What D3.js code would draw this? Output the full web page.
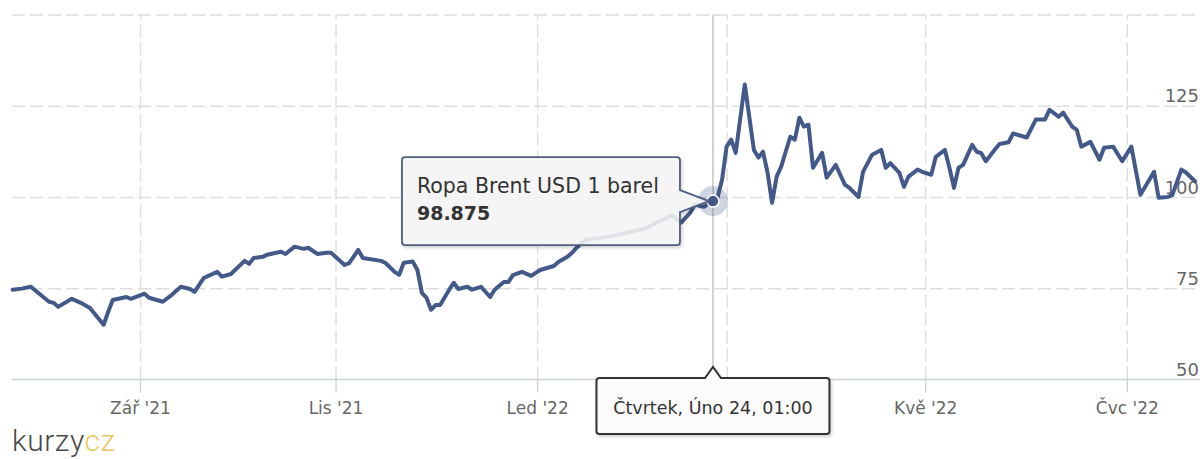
<!DOCTYPE html>
<html>
<head>
<meta charset="utf-8">
<script src="https://cdn.jsdelivr.net/npm/d3@7"></script>
<style>
  html, body { margin: 0; padding: 0; background: #fff; }
  svg { display: block; }
  text { font-family: "DejaVu Sans", Verdana, sans-serif; }
</style>
</head>
<body>
<svg id="chart" width="1204" height="459"></svg>
<script>
// ---- data ----
const seriesName = "Ropa Brent USD 1 barel";
const dates = [
  "2021-07-23","2021-07-27","2021-07-29","2021-08-04","2021-08-05","2021-08-06","2021-08-11","2021-08-13",
  "2021-08-17","2021-08-20","2021-08-23","2021-08-24","2021-08-27","2021-08-30","2021-09-02","2021-09-03",
  "2021-09-08","2021-09-10","2021-09-14","2021-09-16","2021-09-17","2021-09-21","2021-09-24","2021-09-27",
  "2021-09-29","2021-10-04","2021-10-05","2021-10-06","2021-10-08","2021-10-11","2021-10-14","2021-10-15",
  "2021-10-19","2021-10-21","2021-10-22","2021-10-26","2021-10-28","2021-10-29","2021-11-01","2021-11-03",
  "2021-11-04","2021-11-08","2021-11-09","2021-11-15","2021-11-16","2021-11-18","2021-11-19","2021-11-22",
  "2021-11-24","2021-11-25","2021-11-26","2021-11-29","2021-11-30","2021-12-01","2021-12-02","2021-12-06",
  "2021-12-07","2021-12-08","2021-12-10","2021-12-13","2021-12-15","2021-12-17","2021-12-20","2021-12-22",
  "2021-12-23","2021-12-24","2021-12-28","2021-12-30","2022-01-03","2022-01-06","2022-01-07","2022-01-11",
  "2022-01-12","2022-01-13","2022-01-17","2022-01-20","2022-01-25","2022-01-31","2022-02-03","2022-02-08",
  "2022-02-11","2022-02-15","2022-02-17","2022-02-18","2022-02-22","2022-02-24","2022-02-25","2022-02-28",
  "2022-03-01","2022-03-02","2022-03-03","2022-03-07","2022-03-09","2022-03-10","2022-03-11","2022-03-14",
  "2022-03-15","2022-03-16","2022-03-17","2022-03-21","2022-03-22","2022-03-23","2022-03-24","2022-03-25",
  "2022-03-28","2022-03-30","2022-03-31","2022-04-04","2022-04-06","2022-04-07","2022-04-11","2022-04-12",
  "2022-04-14","2022-04-18","2022-04-19","2022-04-20","2022-04-22","2022-04-25","2022-04-26","2022-04-28",
  "2022-04-29","2022-05-03","2022-05-04","2022-05-06","2022-05-09","2022-05-10","2022-05-11","2022-05-12",
  "2022-05-16","2022-05-17","2022-05-18","2022-05-19","2022-05-23","2022-05-24","2022-05-26","2022-05-27",
  "2022-06-01","2022-06-03","2022-06-07","2022-06-08","2022-06-10","2022-06-13","2022-06-15","2022-06-16",
  "2022-06-17","2022-06-21","2022-06-23","2022-06-24","2022-06-28","2022-06-30","2022-07-04","2022-07-06",
  "2022-07-11","2022-07-12","2022-07-14","2022-07-15","2022-07-19","2022-07-20","2022-07-22"
];
const values = [
  74.6,74.9,75.4,71.3,71.0,69.9,72.1,71.0,
  69.6,65.0,68.5,71.8,72.6,72.1,73.5,72.4,
  71.3,73.2,75.4,74.8,74.0,77.8,79.5,78.2,
  78.9,82.5,81.7,83.3,83.6,84.2,85.0,84.4,
  86.4,85.8,86.1,84.4,84.7,84.7,83.6,81.4,
  81.9,85.5,83.3,82.5,81.9,79.5,78.7,82.0,
  82.3,80.0,73.7,72.4,69.1,70.4,70.4,74.6,
  76.5,74.8,75.4,74.6,75.4,72.6,74.6,76.7,
  76.7,78.6,79.5,78.4,80.0,81.1,82.2,83.6,
  84.7,86.1,88.3,88.8,89.4,90.5,91.3,93.2,
  95.0,93.0,95.7,97.9,97.3,98.875,99.8,104.7,
  113.8,115.7,112.1,130.8,112.9,110.8,112.4,106.7,
  98.4,105.6,108.3,116.5,115.7,121.7,119.3,119.8,
  108.0,112.1,105.3,108.8,103.4,102.5,100.0,106.9,
  111.6,112.9,108.0,109.3,106.6,102.8,105.6,107.5,
  106.9,106.1,111.0,112.9,108.0,102.5,108.0,108.8,
  114.3,112.4,112.0,109.8,113.0,114.5,115.0,117.4,
  116.3,121.2,121.2,123.9,122.0,123.1,119.3,118.4,
  113.8,115.1,110.2,113.5,113.8,109.8,113.8,100.6,
  106.9,99.8,100.0,100.5,107.5,106.7,104.3
];
const tickDates  = ["2021-09-01","2021-11-01","2022-01-01","2022-03-01","2022-05-01","2022-07-01"];
const tickLabels = ["Zář '21","Lis '21","Led '22","Bře '22","Kvě '22","Čvc '22"];
const yTicks = [50, 75, 100, 125, 150];
const hoverDate = "2022-02-24";
const hoverLabel = "Čtvrtek, Úno 24, 01:00";

// ---- trading-day (ordinal) calendar, like a stock chart axis ----
function weekdays(start, end) {
  const out = [];
  const d = new Date(start + "T00:00:00Z"), e = new Date(end + "T00:00:00Z");
  for (; d <= e; d.setUTCDate(d.getUTCDate() + 1)) {
    const w = d.getUTCDay();
    if (w > 0 && w < 6) out.push(d.toISOString().slice(0, 10));
  }
  return out;
}
const cal = weekdays(dates[0], dates[dates.length - 1]);
const idx = new Map(cal.map((d, i) => [d, i]));
const data = dates.map((d, i) => ({ d, i: idx.get(d), v: values[i] }));
// ordinal position of any calendar date (interpolated between trading days)
function ordinalPos(ds) {
  if (idx.has(ds)) return idx.get(ds);
  const t = Date.parse(ds + "T00:00:00Z");
  const j = d3.bisectLeft(cal, ds);
  const t0 = Date.parse(cal[j - 1] + "T00:00:00Z"), t1 = Date.parse(cal[j] + "T00:00:00Z");
  return (j - 1) + (t - t0) / (t1 - t0);
}

// ---- layout ----
const svg = d3.select("#chart");
const plotR = 1200, plotL = 12, plotT = 14.5, plotB = 379.5;
const color = "#42598a";

const x = d3.scaleLinear().domain([0, cal.length - 1]).range([12.65, 1195]);
const y = d3.scaleLinear().domain([50, 150]).range([plotB, plotT]);

// horizontal dashed grid + right-side labels
const yAxis = d3.axisRight(y)
  .tickValues(yTicks)
  .tickSize(plotR - plotL)
  .tickFormat(v => v === 150 ? "" : String(v));
const gy = svg.append("g").attr("transform", `translate(${plotL},0)`).call(yAxis);
gy.select(".domain").remove();
gy.selectAll(".tick line")
  .attr("stroke", d => d === 50 ? "none" : "#dddddd")
  .attr("stroke-width", 1.4)
  .attr("stroke-dasharray", "13,5");
gy.selectAll(".tick text")
  .attr("x", plotR - plotL - 1)
  .attr("dy", "-4")
  .attr("text-anchor", "end")
  .attr("fill", "#666")
  .style("font-size", "18px")
  .style("font-family", "'DejaVu Sans', sans-serif");

// vertical dashed grid
const tickPos = tickDates.map(ordinalPos);
const gridX = d3.axisBottom(x).tickValues(tickPos).tickSize(-(plotB - plotT)).tickFormat("");
const gx = svg.append("g").attr("transform", `translate(0,${plotB})`).call(gridX);
gx.select(".domain").remove();
gx.selectAll(".tick line").attr("stroke", "#dddddd").attr("stroke-width", 1.4).attr("stroke-dasharray", "13,5");

// hover state
const hp = data.find(d => d.d === hoverDate);
const hx = x(hp.i), hy = y(hp.v);
const bw = 233, bh = 56;

// x axis with baseline, ticks below, labels (label under the crosshair label is hidden)
const xAxis = d3.axisBottom(x).tickValues(tickPos).tickSize(13).tickPadding(9)
  .tickFormat((d, i) => Math.abs(x(d) - hx) < bw / 2 + 30 ? "" : tickLabels[i]);
const ga = svg.append("g").attr("transform", `translate(0,${plotB})`).call(xAxis);
ga.select(".domain").attr("d", `M${plotL},0H${plotR}`).attr("stroke", "#cdd1d8").attr("stroke-width", 1.5);
ga.selectAll(".tick line").attr("stroke", "#cdd1d8").attr("stroke-width", 1.4);
ga.selectAll(".tick text")
  .attr("fill", "#666")
  .attr("dy", "0")
  .attr("y", 34.5)
  .style("font-size", "17px")
  .style("font-family", "'DejaVu Sans', sans-serif");

// series line
const line = d3.line().x(d => x(d.i)).y(d => y(d.v));
svg.append("path").datum(data)
  .attr("d", line)
  .attr("fill", "none")
  .attr("stroke", color)
  .attr("stroke-width", 4)
  .attr("stroke-linejoin", "round")
  .attr("stroke-linecap", "round");

// crosshair
svg.append("line").attr("x1", hx).attr("x2", hx).attr("y1", plotT).attr("y2", 367)
  .attr("stroke", "#c4c4c4").attr("stroke-width", 1.5);

// halo + marker
svg.append("circle").attr("cx", hx).attr("cy", hy).attr("r", 15).attr("fill", color).attr("opacity", 0.25);
svg.append("circle").attr("cx", hx).attr("cy", hy).attr("r", 6).attr("fill", color).attr("stroke", "#fff").attr("stroke-width", 1.5);

// shadow filter
const defs = svg.append("defs");
const f = defs.append("filter").attr("id", "sh").attr("x", "-10%").attr("y", "-10%").attr("width", "130%").attr("height", "140%");
f.append("feDropShadow").attr("dx", 1.5).attr("dy", 2).attr("stdDeviation", 1.5).attr("flood-color", "#000").attr("flood-opacity", 0.18);

// tooltip callout
const tw = 278, th = 88;
const tx = hx - 311, ty = hy - 44, cr = 3;
const tr = tx + tw, tb = ty + th;
const calloutPath = [
  `M${tx + cr},${ty}`, `H${tr - cr}`, `Q${tr},${ty} ${tr},${ty + cr}`,
  `V${hy - 11}`, `L${hx - 4},${hy}`, `L${tr},${hy + 11}`,
  `V${tb - cr}`, `Q${tr},${tb} ${tr - cr},${tb}`,
  `H${tx + cr}`, `Q${tx},${tb} ${tx},${tb - cr}`,
  `V${ty + cr}`, `Q${tx},${ty} ${tx + cr},${ty}`, "Z"
].join("");
svg.append("path").attr("d", calloutPath)
  .attr("fill", "rgba(247,247,247,0.86)")
  .attr("stroke", "#4f5f7e").attr("stroke-width", 1.8)
  .attr("filter", "url(#sh)");
svg.append("text").attr("x", tx + 15).attr("y", ty + 36)
  .attr("fill", "#333").style("font-size", "20.5px").text(seriesName);
svg.append("text").attr("x", tx + 15).attr("y", ty + 63)
  .attr("fill", "#333").style("font-size", "19px").style("font-weight", "bold")
  .text(d3.format(".3f")(hp.v));

// crosshair label on x axis
const bx = hx - bw / 2, by = 378, br = bx + bw, bb = by + bh;
const labelPath = [
  `M${bx + cr},${by}`, `H${hx - 8}`, `L${hx},${by - 11}`, `L${hx + 8},${by}`,
  `H${br - cr}`, `Q${br},${by} ${br},${by + cr}`, `V${bb - cr}`, `Q${br},${bb} ${br - cr},${bb}`,
  `H${bx + cr}`, `Q${bx},${bb} ${bx},${bb - cr}`, `V${by + cr}`, `Q${bx},${by} ${bx + cr},${by}`, "Z"
].join("");
svg.append("path").attr("d", labelPath)
  .attr("fill", "#fbfbfb").attr("stroke", "#333").attr("stroke-width", 2)
  .attr("filter", "url(#sh)");
svg.append("text").attr("x", hx).attr("y", 414).attr("text-anchor", "middle")
  .attr("fill", "#333").style("font-size", "17.5px").text(hoverLabel);

// logo
const logo = svg.append("text").attr("x", 12).attr("y", 451)
  .style("font-family", "Roboto, 'DejaVu Sans', sans-serif")
  .style("font-weight", "300").style("font-size", "30px").style("letter-spacing", "0.5px");
logo.append("tspan").attr("fill", "#4a4a4a").text("kurzy");
logo.append("tspan").attr("fill", "#e9c95e").text("cz");
</script>
</body>
</html>
